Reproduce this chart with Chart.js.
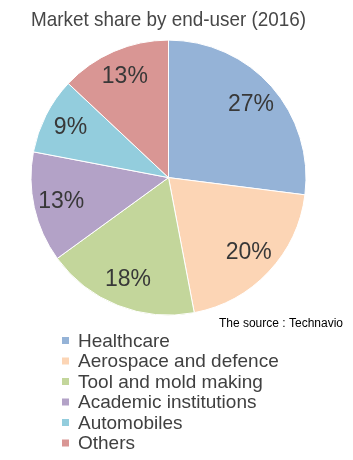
<!DOCTYPE html>
<html>
<head>
<meta charset="utf-8">
<script src="https://cdn.jsdelivr.net/npm/chart.js@4/dist/chart.umd.min.js"></script>
<style>
  html, body { margin: 0; padding: 0; background: #fff; }
  #wrap { width: 353px; height: 460px; }
</style>
</head>
<body>
<div id="wrap"><canvas id="chart"></canvas></div>
<script>
const labels = ['Healthcare', 'Aerospace and defence', 'Tool and mold making', 'Academic institutions', 'Automobiles', 'Others'];
const shares = [27, 20, 18, 13, 9, 13];
const colors = ['#95B3D7', '#FCD5B5', '#C3D69B', '#B3A2C7', '#93CDDD', '#D99694'];
const sourceNote = 'The source : Technavio';

// percent text inside each slice
const sliceLabels = {
  id: 'sliceLabels',
  afterDatasetsDraw(chart) {
    const ctx = chart.ctx;
    const meta = chart.getDatasetMeta(0);
    ctx.save();
    ctx.font = '23px "Liberation Sans", Arial, sans-serif';
    ctx.fillStyle = '#383838';
    ctx.textAlign = 'center';
    ctx.textBaseline = 'middle';
    meta.data.forEach((arc, i) => {
      const p = arc.getProps(['x', 'y', 'startAngle', 'endAngle', 'outerRadius'], true);
      const mid = (p.startAngle + p.endAngle) / 2;
      const r = p.outerRadius * 0.8;
      ctx.fillText(shares[i] + '%', p.x + Math.cos(mid) * r, p.y + Math.sin(mid) * r);
    });
    ctx.restore();
  }
};

// legend stacked one per line, left aligned, plus the source note
const sideText = {
  id: 'sideText',
  afterDraw(chart) {
    const ctx = chart.ctx;
    ctx.save();
    ctx.font = '12px "Liberation Sans", Arial, sans-serif';
    ctx.fillStyle = '#000';
    ctx.textAlign = 'right';
    ctx.textBaseline = 'alphabetic';
    ctx.fillText(sourceNote, 343, 327);

    ctx.font = '19px "Liberation Sans", Arial, sans-serif';
    ctx.textAlign = 'left';
    ctx.textBaseline = 'middle';
    chart.data.labels.forEach((txt, i) => {
      const y = 340.5 + i * 20.5;
      ctx.fillStyle = chart.data.datasets[0].backgroundColor[i];
      ctx.fillRect(62, y - 3.5, 7, 7);
      ctx.fillStyle = '#404040';
      ctx.fillText(txt, 78, y + 1);
    });
    ctx.restore();
  }
};

new Chart(document.getElementById('chart'), {
  type: 'pie',
  data: {
    labels: labels,
    datasets: [{
      data: shares,
      backgroundColor: colors,
      borderColor: '#ffffff',
      borderWidth: 1
    }]
  },
  options: {
    responsive: true,
    maintainAspectRatio: false,
    animation: false,
    radius: 137.5,
    layout: { padding: { left: 31, right: 47, top: 0, bottom: 138 } },
    plugins: {
      legend: { display: false },
      tooltip: { enabled: false },
      title: {
        display: true,
        text: 'Market share by end-user (2016)',
        color: '#474747',
        font: { family: '"Liberation Sans", Arial, sans-serif', size: 21, weight: 'normal', lineHeight: 1.2 },
        padding: { top: 8, bottom: 0 }
      }
    }
  },
  plugins: [sliceLabels, sideText]
});
</script>
</body>
</html>
